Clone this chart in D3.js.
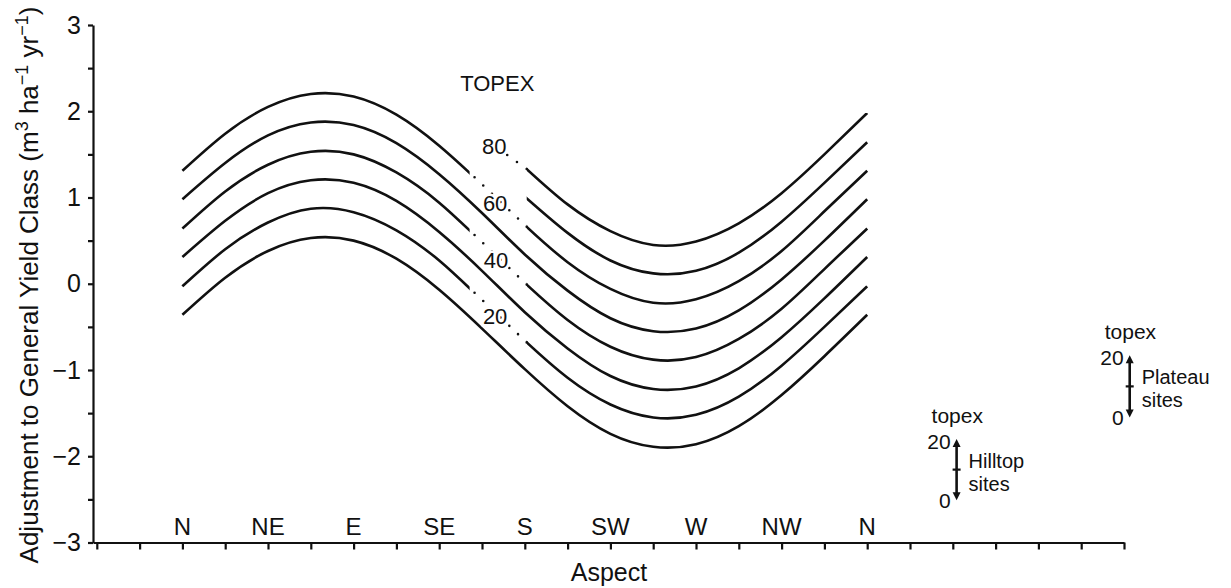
<!DOCTYPE html>
<html lang="en">
<head>
<meta charset="UTF-8">
<title>Aspect and topex adjustment</title>
<style>
  body { margin: 0; background: #fff; }
  svg text { font-family: "Liberation Sans", Arial, Helvetica, sans-serif; fill: #111; }
</style>
</head>
<body>
<div id="chart"></div>
<script src="https://d3js.org/d3.v7.min.js"></script>
<script>
// aspect in degrees from north, a reading every 22.5 degrees
var aspects = [0, 22.5, 45, 67.5, 90, 112.5, 135, 157.5, 180, 202.5, 225, 247.5, 270, 292.5, 315, 337.5, 360];
var compassLabels = ["N", "NE", "E", "SE", "S", "SW", "W", "NW", "N"];
var compassAspects = [0, 45, 90, 135, 180, 225, 270, 315, 360];

// adjustment to general yield class (null = not drawn)
var topex10 = [-0.36, 0.07, 0.38, 0.53, 0.50, 0.29, -0.07, -0.52, -0.99, -1.42, -1.74, -1.89, -1.86, -1.65, -1.29, -0.84, -0.36];
var topex20 = [-0.03, 0.40, 0.71, 0.87, 0.83, 0.62, 0.27, -0.19, -0.66, -1.09, -1.40, -1.55, -1.52, -1.31, -0.95, -0.50, -0.03];
var topex30 = [0.31, 0.73, 1.05, 1.20, 1.17, 0.96, 0.60, 0.15, -0.33, -0.75, -1.07, -1.22, -1.19, -0.98, -0.62, -0.17, 0.31];
var topex40 = [0.64, 1.07, 1.38, 1.53, 1.50, 1.29, 0.94, 0.48, 0.01, -0.42, -0.73, -0.88, -0.85, -0.64, -0.29, 0.17, 0.64];
var topex50 = [0.98, 1.40, 1.72, 1.87, 1.84, 1.63, 1.27, 0.82, 0.34, -0.08, -0.40, -0.55, -0.52, -0.31, 0.05, 0.50, 0.98];
var topex60 = [1.31, 1.74, 2.05, 2.20, 2.17, 1.96, 1.60, 1.15, 0.68, 0.25, -0.06, -0.22, -0.18, 0.03, 0.38, 0.84, 1.31];
var topex70 = [null, null, null, null, null, null, null, null, 1.01, 0.59, 0.27, 0.12, 0.15, 0.36, 0.72, 1.17, 1.64];
var topex80 = [null, null, null, null, null, null, null, null, 1.35, 0.92, 0.61, 0.45, 0.49, 0.70, 1.05, 1.50, 1.98];

var curves = [
    {topex: 10, values: topex10, broken: false},
    {topex: 20, values: topex20, broken: true},
    {topex: 30, values: topex30, broken: false},
    {topex: 40, values: topex40, broken: true},
    {topex: 50, values: topex50, broken: false},
    {topex: 60, values: topex60, broken: true},
    {topex: 70, values: topex70, broken: true},
    {topex: 80, values: topex80, broken: true}
];

// broken curves leave a gap between these aspects, bridged by dotted leaders
var gapStart = 151, gapEnd = 181;
var leaders = [
    {label: "80", at: [164, 1.60], from: null, to: [181, 1.33]},
    {label: "60", at: [164.4, 0.94], from: [151, 1.29], to: [181, 0.66]},
    {label: "40", at: [164.9, 0.275], from: [151, 0.62], to: [181, -0.01]},
    {label: "20", at: [164.4, -0.37], from: [151, -0.05], to: [181, -0.68]}
];

// topex 0-20 range bars for hilltop and plateau sites
var siteBars = [
    {lines: ["Hilltop", "sites"], aspect: 407, low: -2.51, high: -1.80},
    {lines: ["Plateau", "sites"], aspect: 498, low: -1.55, high: -0.83}
];

var width = 1231, height = 588;

var svg = d3.select("#chart").append("svg")
    .attr("width", width)
    .attr("height", height);

var x = d3.scaleLinear().domain([-47, 495]).range([93, 1124]);
var y = d3.scaleLinear().domain([-3, 3]).range([542.5, 25]);

// x axis: ticks every 22.5 degrees, no numbers
svg.append("g")
    .attr("transform", "translate(0," + y(-3) + ")")
    .call(d3.axisBottom(x)
        .tickValues(d3.range(-45, 496, 22.5))
        .tickSize(7)
        .tickSizeOuter(0)
        .tickFormat(""));

// y axis: ticks every 0.5, labels on integers
var yAxis = svg.append("g")
    .attr("transform", "translate(" + x(-47) + ",0)")
    .call(d3.axisLeft(y)
        .tickValues(d3.range(-3, 3.01, 0.5))
        .tickSize(5)
        .tickSizeOuter(0)
        .tickPadding(7)
        .tickFormat(function(d) { return d % 1 === 0 ? d3.format("d")(d) : ""; }));

svg.selectAll(".domain, .tick line")
    .attr("stroke", "#111")
    .attr("stroke-width", 2.2);
yAxis.selectAll("text").style("font-size", "25px").attr("fill", "#111");

// compass labels sit just above the x axis
svg.append("g").selectAll("text")
    .data(compassAspects)
    .enter().append("text")
    .attr("x", function(d) { return x(d); })
    .attr("y", y(-3) - 8)
    .attr("text-anchor", "middle")
    .style("font-size", "24px")
    .text(function(d, i) { return compassLabels[i]; });

svg.append("text")
    .attr("x", 609)
    .attr("y", 581)
    .attr("text-anchor", "middle")
    .style("font-size", "25px")
    .text("Aspect");

var yLabel = svg.append("text")
    .attr("transform", "translate(38,285) rotate(-90)")
    .attr("text-anchor", "middle")
    .style("font-size", "26px");
yLabel.append("tspan").text("Adjustment to General Yield Class (m");
yLabel.append("tspan").attr("dy", -10).style("font-size", "18px").text("3");
yLabel.append("tspan").attr("dy", 10).text(" ha");
yLabel.append("tspan").attr("dy", -10).style("font-size", "18px").text("\u22121");
yLabel.append("tspan").attr("dy", 10).text(" yr");
yLabel.append("tspan").attr("dy", -10).style("font-size", "18px").text("\u22121");
yLabel.append("tspan").attr("dy", 10).text(")");

// clip that hides the gap in the broken curves
var clip = svg.append("clipPath").attr("id", "gap-clip");
clip.append("rect")
    .attr("x", 0).attr("y", 0)
    .attr("width", x(gapStart)).attr("height", height);
clip.append("rect")
    .attr("x", x(gapEnd)).attr("y", 0)
    .attr("width", width - x(gapEnd)).attr("height", height);

var line = d3.line()
    .x(function(d) { return x(d[0]); })
    .y(function(d) { return y(d[1]); })
    .curve(d3.curveNatural);

svg.append("g").selectAll("path")
    .data(curves)
    .enter().append("path")
    .attr("d", function(c) {
        return line(aspects.map(function(a, i) { return [a, c.values[i]]; }).filter(function(p) { return p[1] !== null; }));
    })
    .attr("clip-path", function(c) { return c.broken ? "url(#gap-clip)" : null; })
    .attr("fill", "none")
    .attr("stroke", "#111")
    .attr("stroke-width", 2.6);

// dotted leaders and topex labels
var straight = d3.line()
    .x(function(d) { return x(d[0]); })
    .y(function(d) { return y(d[1]); });

svg.append("g").selectAll("path")
    .data(leaders)
    .enter().append("path")
    .attr("d", function(d) { return straight([d.to, d.from || d.at]); })
    .attr("fill", "none")
    .attr("stroke", "#111")
    .attr("stroke-width", 2.6)
    .attr("stroke-linecap", "round")
    .attr("stroke-dasharray", "0 12");

svg.append("g").selectAll("text")
    .data(leaders)
    .enter().append("text")
    .attr("x", function(d) { return x(d.at[0]); })
    .attr("y", function(d) { return y(d.at[1]); })
    .attr("dy", "0.36em")
    .attr("text-anchor", "middle")
    .style("font-size", "22px")
    .attr("stroke", "#fff")
    .attr("stroke-width", 5)
    .attr("paint-order", "stroke")
    .text(function(d) { return d.label; });

svg.append("text")
    .attr("x", x(165.5))
    .attr("y", y(2.23))
    .attr("text-anchor", "middle")
    .style("font-size", "22px")
    .text("TOPEX");

// hilltop / plateau range bars
var bars = svg.append("g").selectAll("g")
    .data(siteBars)
    .enter().append("g");

bars.append("line")
    .attr("x1", function(d) { return x(d.aspect); })
    .attr("x2", function(d) { return x(d.aspect); })
    .attr("y1", function(d) { return y(d.high) + 5; })
    .attr("y2", function(d) { return y(d.low) - 5; })
    .attr("stroke", "#111")
    .attr("stroke-width", 2.6);

bars.append("line")
    .attr("x1", function(d) { return x(d.aspect) - 4; })
    .attr("x2", function(d) { return x(d.aspect) + 4; })
    .attr("y1", function(d) { return y((d.low + d.high) / 2); })
    .attr("y2", function(d) { return y((d.low + d.high) / 2); })
    .attr("stroke", "#111")
    .attr("stroke-width", 2.2);

bars.append("path")
    .attr("d", function(d) {
        var bx = x(d.aspect), t = y(d.high), b = y(d.low);
        return "M" + bx + "," + t + "L" + (bx - 4) + "," + (t + 8) + "L" + (bx + 4) + "," + (t + 8) + "Z" +
               "M" + bx + "," + b + "L" + (bx - 4) + "," + (b - 8) + "L" + (bx + 4) + "," + (b - 8) + "Z";
    })
    .attr("fill", "#111");

bars.append("text")
    .attr("x", function(d) { return x(d.aspect) - 25; })
    .attr("y", function(d) { return y(d.high) - 16; })
    .style("font-size", "21px")
    .text("topex");

bars.append("text")
    .attr("x", function(d) { return x(d.aspect) - 6; })
    .attr("y", function(d) { return y(d.high) + 2; })
    .attr("dy", "0.36em")
    .attr("text-anchor", "end")
    .style("font-size", "21px")
    .text("20");

bars.append("text")
    .attr("x", function(d) { return x(d.aspect) - 6; })
    .attr("y", function(d) { return y(d.low); })
    .attr("dy", "0.36em")
    .attr("text-anchor", "end")
    .style("font-size", "21px")
    .text("0");

// two-line site names, leading kept just clear of the line boxes
bars.append("text")
    .attr("x", function(d) { return x(d.aspect) + 12; })
    .attr("y", function(d) { return y(d.high) + 29; })
    .style("font-size", "20px")
    .text(function(d) { return d.lines[0]; });

bars.append("text")
    .attr("x", function(d) { return x(d.aspect) + 12; })
    .attr("y", function(d) { return y(d.high) + 52; })
    .style("font-size", "20px")
    .text(function(d) { return d.lines[1]; });
</script>
</body>
</html>
